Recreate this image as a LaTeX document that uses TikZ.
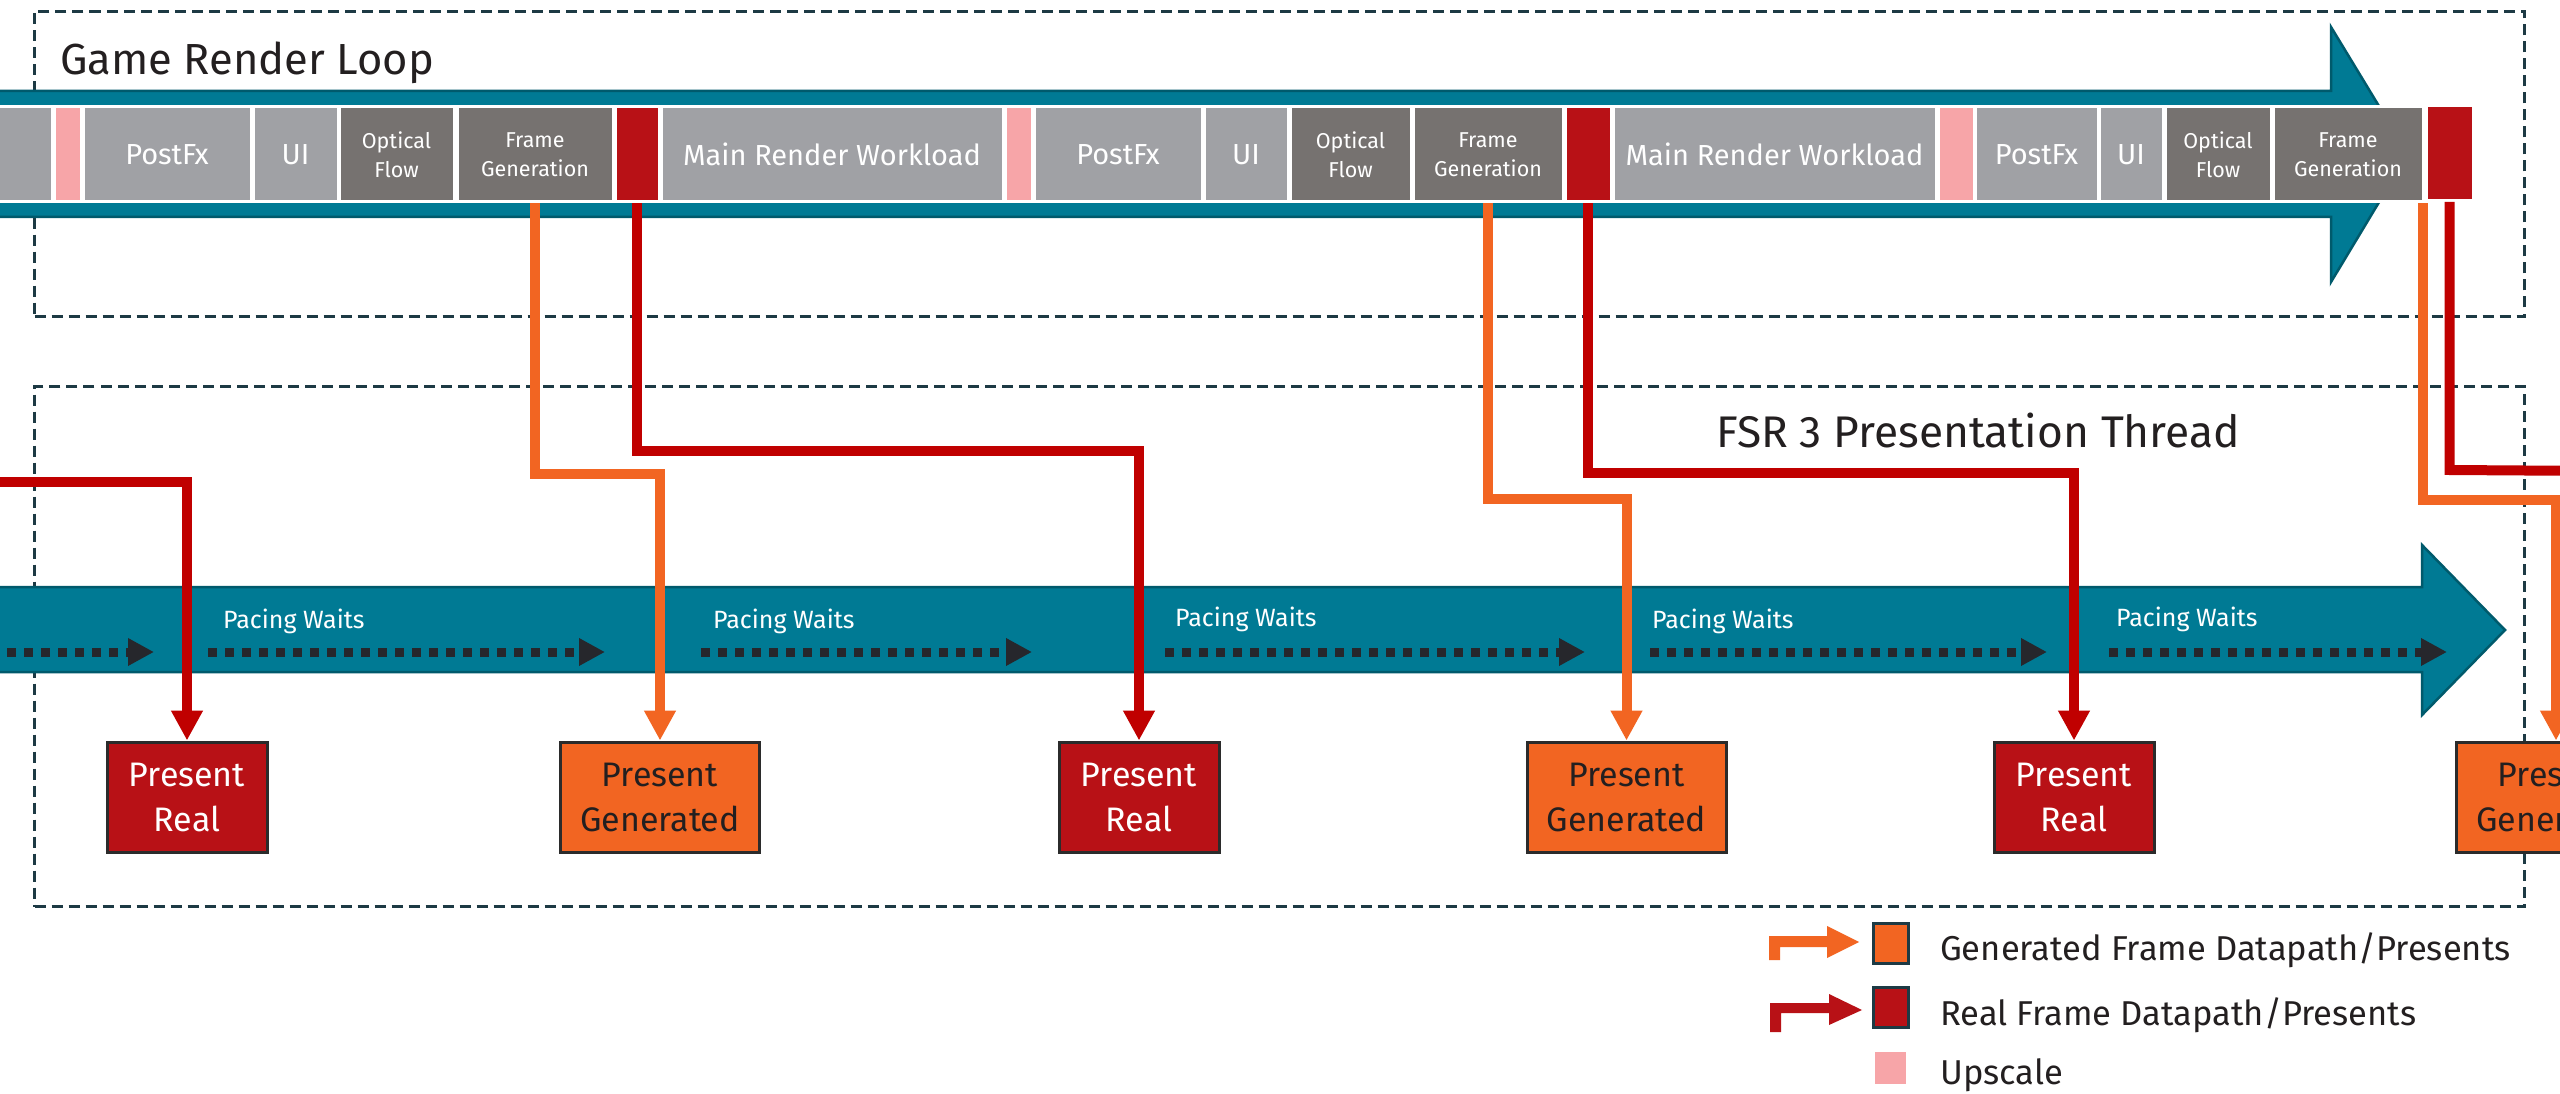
\documentclass[tikz,border=0pt]{standalone}
\usepackage{fontspec}
\setmainfont{Fira Sans}
\usetikzlibrary{arrows.meta}
\definecolor{cTeal}{HTML}{007A94}
\definecolor{cTealDk}{HTML}{005A6C}
\definecolor{cLgray}{HTML}{A0A1A5}
\definecolor{cDgray}{HTML}{767270}
\definecolor{cPink}{HTML}{F7A5A8}
\definecolor{cRedBox}{HTML}{B81116}
\definecolor{cRedLine}{HTML}{C00000}
\definecolor{cOrange}{HTML}{F26522}
\definecolor{cDash}{HTML}{1D3A44}
\definecolor{cText}{HTML}{231F20}
\definecolor{cDot}{HTML}{26272C}
\definecolor{cBoxEdge}{HTML}{2B2B2B}
\begin{document}
\begin{tikzpicture}[x=1pt,y=-1pt,
  tl/.style={draw=white, line width=3pt, minimum height=95pt, inner sep=0pt, text=white, font=\fontsize{29}{30}\selectfont},
  tls/.style={tl, align=center, font=\fontsize{21.5}{29}\selectfont},
  lg/.style={tl, fill=cLgray},
  dg/.style={tls, fill=cDgray},
  pk/.style={tl, fill=cPink},
  rd/.style={tl, fill=cRedBox},
  pres/.style={draw=cBoxEdge, line width=3pt, minimum height=110pt, inner sep=0pt, align=center, font=\fontsize{34}{45}\selectfont},
  preal/.style={pres, fill=cRedBox, text=white, minimum width=160pt},
  pgen/.style={pres, fill=cOrange, text=cText, minimum width=199pt},
  conr/.style={draw=cRedLine, line width=10pt, -{Triangle[length=30pt,width=30pt]}},
  cono/.style={draw=cOrange, line width=10pt, -{Triangle[length=30pt,width=30pt]}},
  pace/.style={draw=cDot, line width=9pt, dash pattern=on 9pt off 8pt, -{Triangle[length=26pt,width=26pt]}},
  pacelbl/.style={anchor=base west, inner sep=0pt, text=white, font=\fontsize{25}{28}\selectfont},
  dashbox/.style={draw=cDash, line width=3pt, dash pattern=on 11pt off 6pt},
  band/.style={fill=cTeal, draw=cTealDk, line width=2.5pt},
  title/.style={anchor=base west, inner sep=0pt, text=cText},
  legtxt/.style={anchor=base west, inner sep=0pt, text=cText, font=\fontsize{34.5}{40}\selectfont},
  legsq/.style={draw=cDash, line width=3pt, minimum width=35pt, minimum height=40pt, inner sep=0pt},
]
\useasboundingbox (0,0) rectangle (2560,1094);
\clip (0,0) rectangle (2560,1094);
\fill[white] (0,0) rectangle (2560,1094);

% dashed group frames
\node[dashbox, anchor=north west, minimum width=2490pt, minimum height=305pt, inner sep=0pt] (grl) at (33,10) {};
\node[dashbox, anchor=north west, minimum width=2490pt, minimum height=520pt, inner sep=0pt] (fsr) at (33,385) {};

\node[title, font=\fontsize{43.5}{50}\selectfont] (t1) at (60,75) {Game Render Loop};
\node[title, font=\fontsize{44.3}{50}\selectfont] (t2) at (1716,447) {FSR 3 Presentation Thread};

% top band arrow
\path[band] (-10,91) -- (2331,91) -- (2331,27) -- (2408,154) -- (2331,282) -- (2331,217) -- (-10,217) -- cycle;

% timeline boxes
\node[lg, minimum width=63pt] (mr1) at (20.5,154.5) {};
\node[pk, minimum width=27pt] (up1) at (67.5,154.5) {};
\node[lg, minimum width=168pt] (pf1) at (167,154.5) {PostFx};
\node[lg, minimum width=85pt] (ui1) at (295.5,154.5) {UI};
\node[dg, minimum width=115pt] (of1) at (396.5,154.5) {Optical\\Flow};
\node[dg, minimum width=156pt] (fg1) at (535,154.5) {Frame\\Generation};
\node[rd, minimum width=44pt] (rb1) at (637,154.5) {};
\node[lg, minimum width=342pt] (mr2) at (832,154.5) {Main Render Workload};
\node[pk, minimum width=27pt] (up2) at (1018.5,154.5) {};
\node[lg, minimum width=168pt] (pf2) at (1118,154.5) {PostFx};
\node[lg, minimum width=84pt] (ui2) at (1246,154.5) {UI};
\node[dg, minimum width=121pt] (of2) at (1350.5,154.5) {Optical\\Flow};
\node[dg, minimum width=150pt] (fg2) at (1488,154.5) {Frame\\Generation};
\node[rd, minimum width=46pt] (rb2) at (1588,154.5) {};
\node[lg, minimum width=323pt] (mr3) at (1774.5,154.5) {Main Render Workload};
\node[pk, minimum width=36pt] (up3) at (1956,154.5) {};
\node[lg, minimum width=123pt] (pf3) at (2036.5,154.5) {PostFx};
\node[lg, minimum width=64pt] (ui3) at (2131,154.5) {UI};
\node[dg, minimum width=106pt] (of3) at (2218,154.5) {Optical\\Flow};
\node[dg, minimum width=150pt] (fg3) at (2348,154.5) {Frame\\Generation};
\node[rd, minimum width=47pt] (rb3) at (2449.5,153) {};

% bottom band arrow
\path[band] (-10,587) -- (2422,587) -- (2422,545) -- (2505,630) -- (2422,715) -- (2422,672) -- (-10,672) -- cycle;

% pacing waits
\node[pacelbl] (pw1) at (223,628) {Pacing Waits};
\node[pacelbl] (pw2) at (713,628) {Pacing Waits};
\node[pacelbl] (pw3) at (1175,626) {Pacing Waits};
\node[pacelbl] (pw4) at (1652,628) {Pacing Waits};
\node[pacelbl] (pw5) at (2116,626) {Pacing Waits};

\coordinate (pa1s) at (-10,652); \coordinate (pa1e) at (154,652);
\coordinate (pa2s) at (208,652); \coordinate (pa2e) at (605,652);
\coordinate (pa3s) at (701,652); \coordinate (pa3e) at (1032,652);
\coordinate (pa4s) at (1165,652); \coordinate (pa4e) at (1585,652);
\coordinate (pa5s) at (1650,652); \coordinate (pa5e) at (2047,652);
\coordinate (pa6s) at (2109,652); \coordinate (pa6e) at (2447,652);
\foreach \i in {1,...,6} { \draw[pace] (pa\i s) -- (pa\i e); }

% present boxes
\node[preal] (pr1) at (187,797) {Present\\Real};
\node[pgen]  (pg1) at (660,797) {Present\\Generated};
\node[preal] (pr2) at (1139,797) {Present\\Real};
\node[pgen]  (pg2) at (1626.5,797) {Present\\Generated};
\node[preal] (pr3) at (2074,797) {Present\\Real};
\node[pgen]  (pg3) at (2556,797) {Present\\Generated};

% connectors
\coordinate (r0s) at (-20,482);
\coordinate (r3e) at (2600,471);
\draw[conr] (r0s) -| (pr1.north);
\draw[cono] (fg1.south) -- ++(0,270) -| (pg1.north);
\draw[conr] (rb1.south) -- ++(0,247) -| (pr2.north);
\draw[cono] (fg2.south) -- ++(0,295) -| (pg2.north);
\draw[conr] (rb2.south) -- ++(0,269) -| (pr3.north);
\draw[cono] ([xshift=-2pt]fg3.south east) -- ++(0,296) -| (pg3.north);
\draw[draw=cRedLine, line width=10pt] (rb3.south) -- ++(0,268) -- (r3e);

% legend
\fill[cOrange] (1769,960) -- (1769,936) -- (1827,936) -- (1827,926) -- (1859,942) -- (1827,958) -- (1827,947) -- (1780,947) -- (1780,960) -- cycle;
\node[legsq, fill=cOrange] (lsq1) at (1890.5,943) {};
\node[legtxt] (ltx1) at (1940,960) {Generated Frame Datapath/Presents};
\fill[cRedBox] (1770,1032) -- (1770,1003) -- (1829,1003) -- (1829,994) -- (1862,1010) -- (1829,1025) -- (1829,1013) -- (1781,1013) -- (1781,1032) -- cycle;
\node[legsq, fill=cRedBox] (lsq2) at (1890.5,1007.5) {};
\node[legtxt] (ltx2) at (1940,1025) {Real Frame Datapath/Presents};
\node[fill=cPink, minimum width=31pt, minimum height=32pt, inner sep=0pt] (lsq3) at (1890.5,1068) {};
\node[legtxt] (ltx3) at (1940,1084) {Upscale};
\end{tikzpicture}
\end{document}
